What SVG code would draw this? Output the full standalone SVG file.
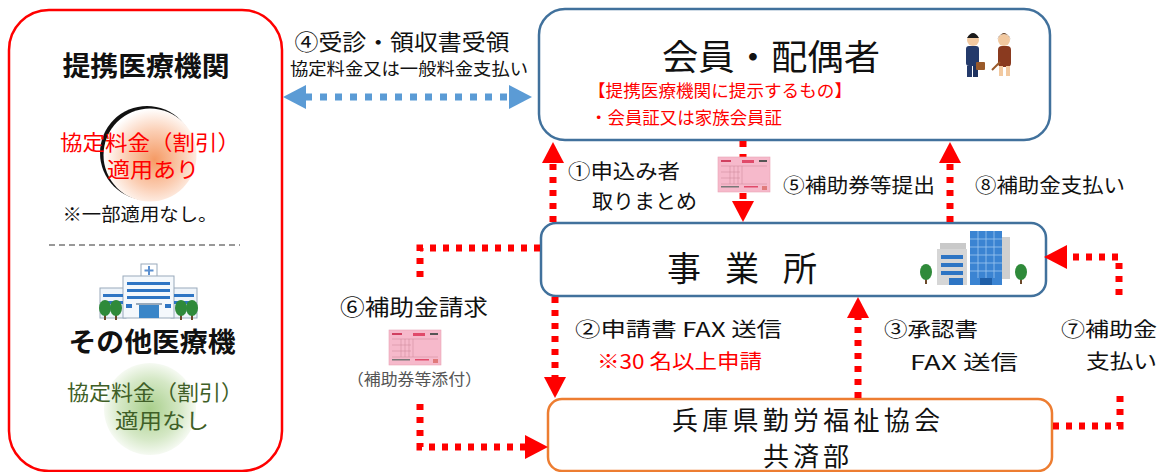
<svg xmlns="http://www.w3.org/2000/svg" width="1166" height="472" viewBox="0 0 1166 472">
  <defs>
    <style>
      text { font-family: "Noto Sans CJK JP", "Noto Sans", sans-serif; fill: #111; }
      .red { fill: #ff0000; }
      .green { fill: #3f5f27; }
      .gray { fill: #555; }
      .bold { font-weight: bold; }
      .dotR { fill: none; stroke: #ff0000; stroke-width: 7; stroke-dasharray: 6 7; }
      .dotB { fill: none; stroke: #5b9bd5; stroke-width: 7; stroke-dasharray: 7 8; }
      .headR { fill: #ff0000; }
      .headB { fill: #5b9bd5; }
      .boxBlue { fill: #fff; stroke: #41719c; stroke-width: 2.5; }
      .boxOrange { fill: #fff; stroke: #ed7d31; stroke-width: 2.5; }
      .win { fill: #2e75c4; }
    </style>
    <radialGradient id="gOrange" cx="0.55" cy="0.55" r="0.55">
      <stop offset="0" stop-color="#f59a64"/>
      <stop offset="0.55" stop-color="#fbcdb2"/>
      <stop offset="1" stop-color="#ffffff"/>
    </radialGradient>
    <radialGradient id="gGreen" cx="0.5" cy="0.5" r="0.55">
      <stop offset="0" stop-color="#a9cf8c"/>
      <stop offset="0.6" stop-color="#d5e8c6"/>
      <stop offset="1" stop-color="#ffffff"/>
    </radialGradient>
    <g id="ticket">
      <rect x="0" y="0" width="52" height="35" fill="#f6b9cb" stroke="#e9a3b6" stroke-width="0.6"/>
      <rect x="3" y="3" width="10" height="2" fill="#d04060"/>
      <rect x="24" y="3" width="12" height="3" fill="#e04a6a"/>
      <rect x="41" y="3" width="8" height="2" fill="#555"/>
      <g stroke="#c98796" stroke-width="0.5">
        <line x1="3" y1="9" x2="49" y2="9"/>
        <line x1="3" y1="15" x2="22" y2="15"/>
        <line x1="3" y1="21" x2="22" y2="21"/>
        <line x1="3" y1="27" x2="49" y2="27"/>
        <line x1="12" y1="9" x2="12" y2="27"/>
        <line x1="16" y1="9" x2="16" y2="27"/>
        <line x1="20" y1="9" x2="20" y2="27"/>
        <line x1="24" y1="9" x2="24" y2="27"/>
      </g>
      <rect x="3" y="29" width="18" height="1.5" fill="#777"/>
      <rect x="26" y="29" width="14" height="1.5" fill="#e04a6a"/>
      <rect x="44" y="29" width="5" height="4" fill="#e07a7a"/>
    </g>
    <g id="tree">
      <rect x="-1" y="0" width="2" height="8" fill="#6b4a2b"/>
      <ellipse cx="0" cy="-4" rx="6" ry="8" fill="#2f8a3a"/>
    </g>
  </defs>

  <!-- partner medical institutions panel -->
  <g id="medical">
    <rect x="9" y="10" width="273" height="461" rx="40" fill="#fff" stroke="#ff0000" stroke-width="2.5"/>
    <text x="146" y="76" font-size="27" text-anchor="middle" class="bold" textLength="167" lengthAdjust="spacingAndGlyphs">提携医療機関</text>
    <circle cx="147" cy="153" r="47" fill="#111"/>
    <circle cx="150" cy="155" r="46.5" fill="url(#gOrange)"/>
    <text x="150" y="150" font-size="21" text-anchor="middle" class="red" textLength="180" lengthAdjust="spacingAndGlyphs">協定料金（割引）</text>
    <text x="153" y="177" font-size="21" text-anchor="middle" class="red" textLength="92" lengthAdjust="spacingAndGlyphs">適用あり</text>
    <text x="140" y="221" font-size="18" text-anchor="middle" textLength="155" lengthAdjust="spacingAndGlyphs">※一部適用なし。</text>
    <line x1="49" y1="245" x2="240" y2="245" stroke="#333" stroke-width="1" stroke-dasharray="6 4"/>

    <!-- hospital -->
    <g id="hospital">
      <rect x="141" y="264" width="16" height="13" fill="#fff" stroke="#9ab" stroke-width="1"/>
      <path d="M149 266 v9 M144.5 270.5 h9" stroke="#5b8fd0" stroke-width="2"/>
      <rect x="100" y="288" width="26" height="30" fill="#eef4fa" stroke="#9ab" stroke-width="1"/>
      <rect x="171" y="288" width="26" height="30" fill="#eef4fa" stroke="#9ab" stroke-width="1"/>
      <rect x="123" y="276" width="51" height="42" fill="#f4f8fc" stroke="#9ab" stroke-width="1"/>
      <rect x="127" y="282" width="43" height="3" class="win"/>
      <rect x="127" y="289" width="43" height="3" class="win"/>
      <rect x="127" y="296" width="43" height="3" class="win"/>
      <rect x="103" y="294" width="20" height="3" class="win"/>
      <rect x="103" y="301" width="20" height="3" class="win"/>
      <rect x="174" y="294" width="20" height="3" class="win"/>
      <rect x="174" y="301" width="20" height="3" class="win"/>
      <rect x="126" y="304" width="6" height="4" class="win"/>
      <rect x="165" y="304" width="6" height="4" class="win"/>
      <rect x="139" y="305" width="20" height="13" fill="#3a86c8"/>
      <rect x="136" y="303" width="26" height="2" fill="#9ab"/>
      <use href="#tree" x="105" y="312"/>
      <use href="#tree" x="116" y="312"/>
      <use href="#tree" x="181" y="312"/>
      <use href="#tree" x="192" y="312"/>
    </g>

    <text x="152" y="352" font-size="27" text-anchor="middle" class="bold" textLength="167" lengthAdjust="spacingAndGlyphs">その他医療機</text>
    <circle cx="150" cy="409" r="46" fill="url(#gGreen)"/>
    <text x="155" y="400" font-size="21" text-anchor="middle" class="green" textLength="176" lengthAdjust="spacingAndGlyphs">協定料金（割引）</text>
    <text x="162" y="428" font-size="21" text-anchor="middle" class="green" textLength="94" lengthAdjust="spacingAndGlyphs">適用なし</text>
  </g>

  <!-- members panel -->
  <g id="members">
    <rect x="539" y="9" width="511" height="131" rx="26" class="boxBlue"/>
    <text x="771" y="70" font-size="35" text-anchor="middle" textLength="218" lengthAdjust="spacingAndGlyphs">会員・配偶者</text>
    <text x="588" y="97" font-size="17" class="red" textLength="264" lengthAdjust="spacingAndGlyphs">【提携医療機関に提示するもの】</text>
    <text x="590" y="124" font-size="17" class="red" textLength="192" lengthAdjust="spacingAndGlyphs">・会員証又は家族会員証</text>
    <!-- couple figure -->
    <g id="couple">
      <circle cx="973" cy="40" r="6" fill="#f2c9a0"/>
      <path d="M967 38 q6 -10 12 0 z" fill="#1a1a1a"/>
      <rect x="966" y="46" width="13" height="20" rx="3" fill="#243a6b"/>
      <rect x="967" y="66" width="5" height="11" fill="#243a6b"/>
      <rect x="973" y="66" width="5" height="11" fill="#1e3260"/>
      <rect x="976" y="62" width="9" height="8" rx="1" fill="#9a5a2a"/>
      <circle cx="1004" cy="40" r="6" fill="#f2c9a0"/>
      <path d="M997 40 q7 -14 14 0 l-2 -4 q-5 -4 -10 0 z" fill="#5a3418"/>
      <rect x="998" y="46" width="13" height="21" rx="4" fill="#8a3a1f"/>
      <rect x="999" y="66" width="4" height="10" fill="#f2c9a0"/>
      <rect x="1006" y="66" width="4" height="10" fill="#f2c9a0"/>
      <path d="M992 70 l8 -8" stroke="#9a5a2a" stroke-width="2"/>
    </g>
  </g>

  <!-- office -->
  <g id="office">
    <rect x="541" y="223" width="505" height="73" rx="15" class="boxBlue"/>
    <text x="742" y="281" font-size="34" text-anchor="middle" textLength="150" lengthAdjust="spacing">事業所</text>
    <g id="buildings">
      <rect x="940" y="243" width="26" height="6" fill="#c9c9c9"/>
      <rect x="937" y="249" width="30" height="36" fill="#d6d6d6"/>
      <rect x="941" y="255" width="22" height="4" class="win"/>
      <rect x="941" y="263" width="22" height="4" class="win"/>
      <rect x="941" y="271" width="22" height="4" class="win"/>
      <rect x="949" y="278" width="14" height="7" class="win"/>
      <rect x="998" y="237" width="12" height="42" fill="#cfcfcf"/>
      <rect x="970" y="231" width="32" height="54" fill="#3b84d2"/>
      <g stroke="#9fc8f0" stroke-width="0.8">
        <line x1="970" y1="239" x2="1002" y2="239"/>
        <line x1="970" y1="247" x2="1002" y2="247"/>
        <line x1="970" y1="255" x2="1002" y2="255"/>
        <line x1="970" y1="263" x2="1002" y2="263"/>
        <line x1="970" y1="271" x2="1002" y2="271"/>
        <line x1="978" y1="231" x2="978" y2="278"/>
        <line x1="986" y1="231" x2="986" y2="278"/>
        <line x1="994" y1="231" x2="994" y2="278"/>
      </g>
      <rect x="980" y="278" width="12" height="7" fill="#1f5fa8"/>
      <use href="#tree" x="926" y="276"/>
      <use href="#tree" x="1021" y="276"/>
    </g>
  </g>

  <!-- association -->
  <g id="association">
    <rect x="548" y="399" width="504" height="72" rx="14" class="boxOrange"/>
    <text x="806" y="430" font-size="26" text-anchor="middle" textLength="268" lengthAdjust="spacing">兵庫県勤労福祉協会</text>
    <text x="806" y="466" font-size="26" text-anchor="middle" textLength="86" lengthAdjust="spacing">共済部</text>
  </g>

  <!-- connectors -->
  <g id="connectors">
    <!-- ④ visit / receipt -->
    <line x1="305" y1="97" x2="510" y2="97" class="dotB"/>
    <polygon points="283,97 306,85 306,109" class="headB"/>
    <polygon points="532,97 509,85 509,109" class="headB"/>

    <!-- ① applicants -->
    <line x1="553" y1="222" x2="553" y2="160" class="dotR"/>
    <polygon points="553,142 542,163 564,163" class="headR"/>

    <!-- ⑤ voucher submission -->
    <line x1="743" y1="141" x2="743" y2="203" class="dotR"/>
    <polygon points="743,222 732,201 754,201" class="headR"/>
    <use href="#ticket" x="718" y="157"/>

    <!-- ⑧ payment to member -->
    <line x1="950" y1="222" x2="950" y2="160" class="dotR"/>
    <polygon points="950,142 939,163 961,163" class="headR"/>

    <!-- ② application fax -->
    <line x1="555" y1="297" x2="555" y2="380" class="dotR"/>
    <polygon points="555,398 544,377 566,377" class="headR"/>

    <!-- ③ approval fax -->
    <line x1="858" y1="398" x2="858" y2="316" class="dotR"/>
    <polygon points="858,297 847,318 869,318" class="headR"/>

    <!-- ⑥ subsidy claim -->
    <polyline points="540,248 420,248 420,284" class="dotR"/>
    <polyline points="420,404 420,447 525,447" class="dotR"/>
    <polygon points="548,447 525,435 525,459" class="headR"/>
    <use href="#ticket" x="389" y="330"/>

    <!-- ⑦ subsidy payment -->
    <polyline points="1053,426 1120,426 1120,390" class="dotR"/>
    <polyline points="1119,295 1119,257 1066,257" class="dotR"/>
    <polygon points="1044,257 1067,245 1067,269" class="headR"/>
  </g>

  <!-- connector labels -->
  <g id="labels">
    <text x="402" y="50" font-size="22" text-anchor="middle" textLength="215" lengthAdjust="spacingAndGlyphs">④受診・領収書受領</text>
    <text x="409" y="75" font-size="17" text-anchor="middle" textLength="238" lengthAdjust="spacingAndGlyphs">協定料金又は一般料金支払い</text>
    <text x="568" y="179" font-size="20" textLength="112" lengthAdjust="spacingAndGlyphs">①申込み者</text>
    <text x="592" y="209" font-size="20" textLength="105" lengthAdjust="spacingAndGlyphs">取りまとめ</text>
    <text x="783" y="193" font-size="20" textLength="152" lengthAdjust="spacingAndGlyphs">⑤補助券等提出</text>
    <text x="975" y="193" font-size="20" textLength="150" lengthAdjust="spacingAndGlyphs">⑧補助金支払い</text>
    <text x="340" y="315" font-size="22" textLength="148" lengthAdjust="spacingAndGlyphs">⑥補助金請求</text>
    <text x="347" y="385" font-size="16" class="gray" textLength="135" lengthAdjust="spacingAndGlyphs">（補助券等添付）</text>
    <text x="575" y="337" font-size="20" textLength="207" lengthAdjust="spacingAndGlyphs">②申請書 FAX 送信</text>
    <text x="597" y="369" font-size="20" class="red" textLength="165" lengthAdjust="spacingAndGlyphs">※30 名以上申請</text>
    <text x="884" y="337" font-size="20" textLength="94" lengthAdjust="spacingAndGlyphs">③承認書</text>
    <text x="910" y="370" font-size="20" textLength="108" lengthAdjust="spacingAndGlyphs">FAX 送信</text>
    <text x="1061" y="337" font-size="20" textLength="96" lengthAdjust="spacingAndGlyphs">⑦補助金</text>
    <text x="1086" y="369" font-size="20" textLength="71" lengthAdjust="spacingAndGlyphs">支払い</text>
  </g>
</svg>
